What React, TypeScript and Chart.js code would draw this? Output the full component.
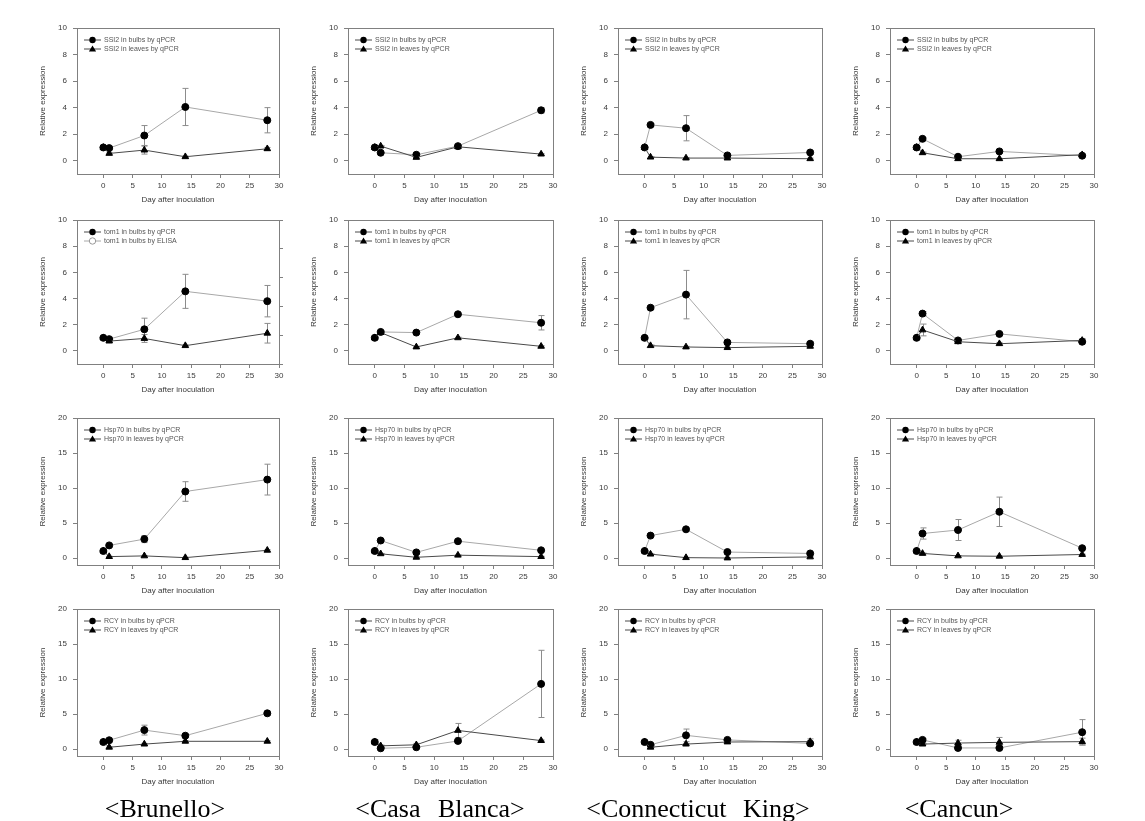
import React, { useEffect, useRef } from "react";
import { Chart, registerables } from "chart.js";

Chart.register(...registerables);

// ---------- data ----------
const days = [0, 1, 7, 14, 28];
const xTickValues = [0, 5, 10, 15, 20, 25, 30];
const yTickSmall = [0, 2, 4, 6, 8, 10];
const yTickLarge = [0, 5, 10, 15, 20];
const elisaTickValues = [0, 1, 2, 3, 4, 5];
const cultivars = ["<Brunello>", "<Casa Blanca>", "<Connecticut King>", "<Cancun>"];
const genes = ["SSI2", "tom1", "Hsp70", "RCY"];
const yMaxByGene = [10, 10, 20, 20];

// order within each: Brunello, Casa Blanca, Connecticut King, Cancun
const ssi2BulbMean = [
  [1.0, 0.95, 1.9, 4.05, 3.05],
  [1.0, 0.6, 0.45, 1.1, 3.8],
  [1.0, 2.7, 2.45, 0.4, 0.62],
  [1.0, 1.65, 0.3, 0.7, 0.38],
];
const ssi2BulbErr = [
  [0.05, 0.1, 0.75, 1.4, 0.95],
  [0.05, 0.05, 0.1, 0.1, 0.2],
  [0.05, 0.1, 0.95, 0.1, 0.15],
  [0.05, 0.1, 0.05, 0.05, 0.05],
];
const ssi2LeafMean = [
  [1.0, 0.55, 0.8, 0.3, 0.9],
  [1.0, 1.1, 0.25, 1.05, 0.5],
  [1.0, 0.27, 0.2, 0.2, 0.15],
  [1.0, 0.6, 0.15, 0.15, 0.45],
];
const ssi2LeafErr = [
  [0, 0.05, 0.3, 0.05, 0.1],
  [0, 0.05, 0.05, 0.1, 0.05],
  [0, 0.03, 0.03, 0.05, 0.05],
  [0, 0.05, 0.03, 0.03, 0.05],
];

const tom1BulbMean = [
  [1.0, 0.9, 1.65, 4.55, 3.8],
  [1.0, 1.45, 1.4, 2.8, 2.15],
  [1.0, 3.3, 4.3, 0.65, 0.55],
  [1.0, 2.85, 0.8, 1.3, 0.7],
];
const tom1BulbErr = [
  [0.05, 0.1, 0.85, 1.3, 1.2],
  [0.05, 0.1, 0.1, 0.1, 0.55],
  [0.05, 0.1, 1.85, 0.1, 0.15],
  [0.05, 0.15, 0.1, 0.1, 0.15],
];
const tom1LeafMean = [
  [1.0, 0.75, 0.95, 0.4, 1.35],
  [1.0, 1.4, 0.3, 1.0, 0.35],
  [1.0, 0.4, 0.3, 0.25, 0.35],
  [1.0, 1.6, 0.7, 0.55, 0.8],
];
const tom1LeafErr = [
  [0, 0.1, 0.3, 0.05, 0.75],
  [0, 0.05, 0.05, 0.05, 0.05],
  [0, 0.05, 0.05, 0.05, 0.05],
  [0, 0.45, 0.1, 0.1, 0.15],
];

const hsp70BulbMean = [
  [1.0, 1.8, 2.7, 9.5, 11.2],
  [1.0, 2.5, 0.8, 2.4, 1.1],
  [1.0, 3.2, 4.1, 0.85, 0.65],
  [1.0, 3.5, 4.0, 6.6, 1.4],
];
const hsp70BulbErr = [
  [0.1, 0.1, 0.5, 1.4, 2.2],
  [0.1, 0.15, 0.1, 0.1, 0.1],
  [0.1, 0.1, 0.2, 0.1, 0.1],
  [0.1, 0.8, 1.5, 2.1, 0.1],
];
const hsp70LeafMean = [
  [1.0, 0.2, 0.3, 0.05, 1.1],
  [1.0, 0.6, 0.1, 0.4, 0.2],
  [1.0, 0.55, 0.05, 0.0, 0.15],
  [1.0, 0.65, 0.3, 0.25, 0.5],
];
const hsp70LeafErr = [
  [0, 0.05, 0.05, 0.05, 0.1],
  [0, 0.05, 0.05, 0.05, 0.05],
  [0, 0.05, 0.05, 0.05, 0.05],
  [0, 0.05, 0.05, 0.05, 0.05],
];

const rcyBulbMean = [
  [1.0, 1.25, 2.7, 1.9, 5.1],
  [1.0, 0.1, 0.25, 1.15, 9.3],
  [1.0, 0.6, 1.95, 1.3, 0.8],
  [1.0, 1.3, 0.15, 0.15, 2.4],
];
const rcyBulbErr = [
  [0.1, 0.1, 0.7, 0.2, 0.3],
  [0.3, 0.1, 0.1, 0.2, 4.8],
  [0.1, 0.1, 0.9, 0.2, 0.2],
  [0.1, 0.2, 0.1, 0.05, 1.8],
];
const rcyLeafMean = [
  [1.0, 0.25, 0.7, 1.1, 1.1],
  [1.0, 0.45, 0.6, 2.65, 1.2],
  [1.0, 0.25, 0.7, 1.0, 1.05],
  [1.0, 0.7, 0.85, 0.95, 1.05],
];
const rcyLeafErr = [
  [0, 0.05, 0.1, 0.1, 0.1],
  [0, 0.1, 0.2, 1.0, 0.1],
  [0, 0.05, 0.1, 0.1, 0.4],
  [0, 0.1, 0.4, 0.7, 0.5],
];

const bulbMeans = [ssi2BulbMean, tom1BulbMean, hsp70BulbMean, rcyBulbMean];
const bulbErrs = [ssi2BulbErr, tom1BulbErr, hsp70BulbErr, rcyBulbErr];
const leafMeans = [ssi2LeafMean, tom1LeafMean, hsp70LeafMean, rcyLeafMean];
const leafErrs = [ssi2LeafErr, tom1LeafErr, hsp70LeafErr, rcyLeafErr];

// ---------- layout & style ----------
const colLeft = [77, 348, 618, 890];
const colWidth = [202, 205, 204, 204];
const rowTop = [28, 220, 418, 609];
const rowHeight = [146, 144, 147, 147];
const labelCenter = [165, 440, 698, 959];
const labelWordSpacing = [0, 11, 10, 0];
const labelTop = 794;

const SANS = '"Liberation Sans", Arial, sans-serif';
const FRAME = "#808080";
const TEXT = "#3a3a3a";
const BULB_LINE = "#a8a8a8";
const LEAF_LINE = "#4a4a4a";
const ERR = "#8c8c8c";

const PAD_L = 48;
const PAD_T = 12;
const PAD_R = 10;
const PAD_B = 42;

type LegendItem = { label: string; marker: "circle" | "triangle"; filled: boolean; line: string; markerColor: string };

const overlayPlugin = {
  id: "overlay",
  beforeDatasetsDraw(chart: any) {
    const ctx = chart.ctx;
    const yScale = chart.scales.y;
    ctx.save();
    ctx.strokeStyle = ERR;
    ctx.lineWidth = 1;
    chart.data.datasets.forEach((ds: any, i: number) => {
      const meta = chart.getDatasetMeta(i);
      (ds.errors || []).forEach((e: number, j: number) => {
        if (!e) return;
        const el = meta.data[j];
        const v = ds.data[j].y;
        const x = Math.round(el.x) + 0.5;
        const y1 = yScale.getPixelForValue(v + e);
        const y2 = yScale.getPixelForValue(v - e);
        ctx.beginPath();
        ctx.moveTo(x, y1);
        ctx.lineTo(x, y2);
        ctx.moveTo(x - 3, y1);
        ctx.lineTo(x + 3, y1);
        ctx.moveTo(x - 3, y2);
        ctx.lineTo(x + 3, y2);
        ctx.stroke();
      });
    });
    ctx.restore();
  },
  afterDraw(chart: any, _args: any, opts: any) {
    const ctx = chart.ctx;
    const ca = chart.chartArea;
    ctx.save();
    ctx.strokeStyle = FRAME;
    ctx.lineWidth = 1;
    ctx.strokeRect(Math.round(ca.left) + 0.5, Math.round(ca.top) + 0.5, Math.round(ca.right - ca.left), Math.round(ca.bottom - ca.top));
    const items: LegendItem[] = opts.items || [];
    items.forEach((it, k) => {
      const x0 = ca.left + 7;
      const y = ca.top + 12 + k * 9;
      ctx.strokeStyle = it.line;
      ctx.lineWidth = 1;
      ctx.beginPath();
      ctx.moveTo(x0, y);
      ctx.lineTo(x0 + 17, y);
      ctx.stroke();
      const mx = x0 + 8.5;
      ctx.beginPath();
      if (it.marker === "circle") {
        ctx.arc(mx, y, 3.2, 0, Math.PI * 2);
      } else {
        ctx.moveTo(mx, y - 3.6);
        ctx.lineTo(mx + 3.6, y + 2.5);
        ctx.lineTo(mx - 3.6, y + 2.5);
        ctx.closePath();
      }
      if (it.filled) {
        ctx.fillStyle = it.markerColor;
        ctx.fill();
      } else {
        ctx.fillStyle = "#fff";
        ctx.fill();
        ctx.strokeStyle = it.markerColor;
        ctx.stroke();
      }
      ctx.fillStyle = "#555";
      ctx.font = `7px ${SANS}`;
      ctx.textBaseline = "middle";
      ctx.textAlign = "left";
      ctx.fillText(it.label, x0 + 20, y + 0.5);
    });
    ctx.restore();
  },
};

type PanelSpec = {
  key: string;
  row: number;
  col: number;
  bulbs: number[];
  bulbErr: number[];
  leaves: number[];
  leafErr: number[];
  legend: LegendItem[];
  secondAxis: boolean;
};

function buildPanels(): PanelSpec[] {
  const out: PanelSpec[] = [];
  for (let r = 0; r < 4; r++) {
    for (let c = 0; c < 4; c++) {
      const g = genes[r];
      const elisa = r === 1 && c === 0;
      const legend: LegendItem[] = [
        { label: `${g} in bulbs by qPCR`, marker: "circle", filled: true, line: LEAF_LINE, markerColor: "#000" },
        elisa
          ? { label: `${g} in bulbs by ELISA`, marker: "circle", filled: false, line: BULB_LINE, markerColor: "#999" }
          : { label: `${g} in leaves by qPCR`, marker: "triangle", filled: true, line: LEAF_LINE, markerColor: "#000" },
      ];
      out.push({
        key: `${r}-${c}`,
        row: r,
        col: c,
        bulbs: bulbMeans[r][c],
        bulbErr: bulbErrs[r][c],
        leaves: leafMeans[r][c],
        leafErr: leafErrs[r][c],
        legend,
        secondAxis: elisa,
      });
    }
  }
  return out;
}

const panels = buildPanels();

function buildConfig(p: PanelSpec): any {
  const yMax = yMaxByGene[p.row];
  const yTicks = yMax === 10 ? yTickSmall : yTickLarge;
  const tickFont = { family: SANS, size: 8 };
  const scales: any = {
    x: {
      type: "linear",
      min: -4.5,
      max: 30,
      afterBuildTicks: (s: any) => {
        s.ticks = xTickValues.map((v) => ({ value: v }));
      },
      afterFit: (s: any) => {
        s.height = PAD_B;
      },
      border: { display: false },
      grid: { drawOnChartArea: false, drawTicks: true, tickLength: 4, color: FRAME },
      ticks: { font: tickFont, color: TEXT, padding: 3, maxRotation: 0, autoSkip: false },
      title: { display: true, text: "Day after inoculation", font: { family: SANS, size: 8 }, color: TEXT, padding: { top: 0, bottom: 11 } },
    },
    y: {
      type: "linear",
      min: -1,
      max: yMax,
      afterBuildTicks: (s: any) => {
        s.ticks = yTicks.map((v) => ({ value: v }));
      },
      afterFit: (s: any) => {
        s.width = PAD_L;
      },
      border: { display: false },
      grid: { drawOnChartArea: false, drawTicks: true, tickLength: 4, color: FRAME },
      ticks: { font: tickFont, color: TEXT, padding: 6, autoSkip: false },
      title: { display: true, text: "Relative expression", font: { family: SANS, size: 8 }, color: TEXT, padding: { top: 9, bottom: 0 } },
    },
  };
  if (p.secondAxis) {
    scales.y2 = {
      type: "linear",
      position: "right",
      min: 0,
      max: 5,
      afterBuildTicks: (s: any) => {
        s.ticks = elisaTickValues.map((v) => ({ value: v }));
      },
      afterFit: (s: any) => {
        s.width = 8;
      },
      border: { display: false },
      grid: { drawOnChartArea: false, drawTicks: true, tickLength: 4, color: FRAME },
      ticks: { display: false },
    };
  }
  return {
    type: "line",
    data: {
      datasets: [
        {
          label: p.legend[1].label,
          data: days.map((d, i) => ({ x: d, y: p.leaves[i] })),
          errors: p.leafErr,
          borderColor: LEAF_LINE,
          borderWidth: 1,
          pointStyle: "triangle",
          pointRadius: 3.8,
          pointBackgroundColor: "#000",
          pointBorderColor: "#000",
          pointBorderWidth: 1,
          tension: 0,
          fill: false,
        },
        {
          label: p.legend[0].label,
          data: days.map((d, i) => ({ x: d, y: p.bulbs[i] })),
          errors: p.bulbErr,
          borderColor: BULB_LINE,
          borderWidth: 1,
          pointStyle: "circle",
          pointRadius: 3.5,
          pointBackgroundColor: "#000",
          pointBorderColor: "#000",
          pointBorderWidth: 1,
          tension: 0,
          fill: false,
        },
      ],
    },
    options: {
      animation: false,
      responsive: false,
      maintainAspectRatio: false,
      events: [],
      layout: { padding: { left: 0, top: PAD_T, right: p.secondAxis ? PAD_R - 8 : PAD_R, bottom: 0 } },
      plugins: {
        legend: { display: false },
        tooltip: { enabled: false },
        overlay: { items: p.legend },
      },
      scales,
    },
    plugins: [overlayPlugin],
  };
}

function Panel({ spec }: { spec: PanelSpec }) {
  const ref = useRef<HTMLCanvasElement>(null);
  const w = PAD_L + colWidth[spec.col] + PAD_R;
  const h = PAD_T + rowHeight[spec.row] + PAD_B;
  useEffect(() => {
    const chart = new Chart(ref.current as HTMLCanvasElement, buildConfig(spec));
    return () => chart.destroy();
  }, [spec]);
  return (
    <canvas
      ref={ref}
      width={w}
      height={h}
      style={{ position: "absolute", left: colLeft[spec.col] - PAD_L, top: rowTop[spec.row] - PAD_T, width: w, height: h }}
    />
  );
}

export default function App() {
  return (
    <div style={{ position: "absolute", left: 0, top: 0, width: 1145, height: 821, background: "#fff", overflow: "hidden" }}>
      {panels.map((p) => (
        <Panel key={p.key} spec={p} />
      ))}
      {cultivars.map((name, i) => (
        <div
          key={name}
          style={{
            position: "absolute",
            left: labelCenter[i] - 150,
            width: 300,
            top: labelTop,
            textAlign: "center",
            fontFamily: '"Liberation Serif", "DejaVu Serif", serif',
            fontSize: 26,
            lineHeight: "30px",
            color: "#000",
            wordSpacing: labelWordSpacing[i],
            whiteSpace: "nowrap",
          }}
        >
          {name}
        </div>
      ))}
    </div>
  );
}
